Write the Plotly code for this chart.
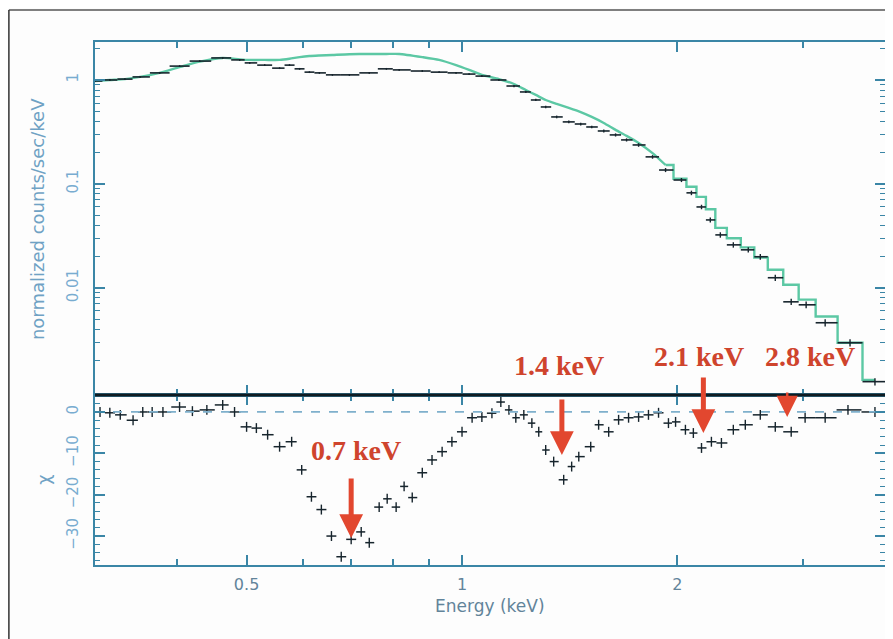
import math
import plotly.graph_objects as go
from plotly.subplots import make_subplots

# ---------------- data ----------------
energy_data = [0.307, 0.322, 0.338, 0.355, 0.378, 0.403, 0.430, 0.463, 0.489, 0.505,
               0.530, 0.556, 0.574, 0.593, 0.612, 0.632, 0.659, 0.696, 0.742, 0.784,
               0.817, 0.880, 0.929, 0.981, 1.023, 1.066, 1.126, 1.182, 1.228, 1.268,
               1.309, 1.356, 1.410, 1.465, 1.518, 1.578, 1.639, 1.698, 1.765, 1.846,
               1.925, 2.026, 2.092, 2.161, 2.223, 2.296, 2.394, 2.512, 2.611, 2.740,
               2.884, 3.026, 3.217, 3.485, 3.776]
flux_data = [0.978, 1.00, 1.02, 1.07, 1.17, 1.36, 1.52, 1.63, 1.56, 1.46,
             1.39, 1.30, 1.39, 1.28, 1.19, 1.17, 1.12, 1.12, 1.17, 1.28,
             1.25, 1.22, 1.19, 1.17, 1.14, 1.09, 1.00, 0.875, 0.767, 0.642,
             0.550, 0.441, 0.395, 0.377, 0.353, 0.323, 0.296, 0.265, 0.237, 0.182,
             0.136, 0.109, 0.082, 0.060, 0.045, 0.0323, 0.0259, 0.0232, 0.0199, 0.0125,
             0.00733, 0.00686, 0.00461, 0.00296, 0.00125]
flux_err_frac = [0.02, 0.02, 0.02, 0.02, 0.02, 0.02, 0.02, 0.02, 0.02, 0.02,
                 0.02, 0.02, 0.02, 0.02, 0.02, 0.02, 0.02, 0.02, 0.02, 0.02,
                 0.02, 0.02, 0.02, 0.02, 0.02, 0.02, 0.02, 0.025, 0.025, 0.025,
                 0.03, 0.03, 0.03, 0.03, 0.03, 0.035, 0.035, 0.035, 0.04, 0.04,
                 0.045, 0.045, 0.05, 0.05, 0.055, 0.06, 0.06, 0.06, 0.065, 0.07,
                 0.07, 0.075, 0.08, 0.08, 0.08]
model_flux = [0.978, 1.00, 1.02, 1.07, 1.17, 1.33, 1.50, 1.63, 1.58, 1.56,
              1.56, 1.56, 1.60, 1.66, 1.70, 1.72, 1.74, 1.77, 1.78, 1.78,
              1.78, 1.66, 1.56, 1.39, 1.25, 1.12, 1.02, 0.915, 0.80, 0.718,
              0.642, 0.588, 0.538, 0.49, 0.441, 0.386, 0.331, 0.29, 0.248, 0.198,
              0.152, 0.112, 0.094, 0.075, 0.057, 0.0377, 0.030, 0.0245, 0.0195, 0.0149,
              0.0107, 0.0077, 0.0053, 0.00296, 0.0013]
model_step_from = 1.925   # above this energy the model is drawn as a binned step line

res_energy = [0.312, 0.322, 0.333, 0.347, 0.358, 0.369, 0.382, 0.403, 0.420, 0.440,
              0.463, 0.481, 0.500, 0.516, 0.535, 0.556, 0.578, 0.597, 0.616, 0.636,
              0.657, 0.678, 0.700, 0.723, 0.742, 0.766, 0.786, 0.809, 0.830, 0.852,
              0.880, 0.908, 0.938, 0.968, 1.000, 1.033, 1.066, 1.101, 1.133, 1.163,
              1.189, 1.220, 1.252, 1.280, 1.309, 1.343, 1.387, 1.423, 1.456, 1.513,
              1.552, 1.603, 1.655, 1.709, 1.765, 1.822, 1.882, 1.943, 1.988, 2.052,
              2.105, 2.161, 2.231, 2.304, 2.394, 2.488, 2.611, 2.740, 2.884, 3.016,
              3.217, 3.462, 3.776]
res_chi = [0.0, -0.2, -0.7, -2.0, 0.0, 0.0, 0.0, 1.2, 0.2, 0.5,
           1.7, 0.0, -3.6, -3.9, -5.5, -8.4, -7.2, -14.0, -20.5, -23.6,
           -30.0, -35.0, -30.8, -29.0, -31.6, -23.0, -21.0, -23.0, -18.0, -20.7,
           -14.7, -11.6, -9.6, -7.2, -4.8, -1.4, -1.2, -0.3, 2.4, 0.5,
           -1.4, -0.7, -2.7, -4.8, -9.2, -12.0, -16.4, -13.2, -10.8, -8.4,
           -3.1, -4.8, -1.9, -1.4, -1.2, -0.7, -0.2, -2.7, -2.4, -4.3,
           -5.1, -8.7, -7.2, -7.5, -4.3, -3.1, -0.7, -3.6, -4.8, -1.4,
           -1.4, 0.5, 0.0]
res_err = 1.2

line_labels = ["0.7 keV", "1.4 keV", "2.1 keV", "2.8 keV"]
line_energy = [0.700, 1.379, 2.174, 2.847]      # arrow positions
line_tip_chi = [-30.5, -10.4, -5.1, -1.2]       # arrow tips in residual panel

x_range_kev = [0.307, 3.90]
y_top_range = [0.00093, 2.32]
y_bot_range = [-37.0, 4.1]

x_major = [0.5, 1, 2]
x_major_text = ["0.5", "1", "2"]
x_minor = [0.4, 0.6, 0.7, 0.8, 0.9, 3]
y_major = [0.01, 0.1, 1]
y_major_text = ["0.01", "0.1", "1"]
y_minor = [0.002, 0.003, 0.004, 0.005, 0.006, 0.007, 0.008, 0.009,
           0.02, 0.03, 0.04, 0.05, 0.06, 0.07, 0.08, 0.09,
           0.2, 0.3, 0.4, 0.5, 0.6, 0.7, 0.8, 0.9, 2]
chi_major = [-30, -20, -10, 0]
chi_minor = [-36, -34, -32, -28, -26, -24, -22, -18, -16, -14, -12,
             -8, -6, -4, -2, 2, 4]

# ---------------- styling ----------------
AX = "#3b86a6"
DATA = "#17252d"
MODEL = "#5cc8a4"
RED = "#cf442d"
ARROW = "#e2472f"
TLAB_Y = "#78acd0"
TLAB_X = "#62849a"
FONT = "DejaVu Sans"


def bin_errors(centers, lo, hi):
    logs = [math.log10(c) for c in centers]
    edges = [math.log10(lo)]
    for a, b in zip(logs[:-1], logs[1:]):
        edges.append((a + b) / 2)
    edges.append(2 * logs[-1] - edges[-1])
    minus = [c - 10 ** edges[i] for i, c in enumerate(centers)]
    plus = [10 ** edges[i + 1] - c for i, c in enumerate(centers)]
    return minus, plus


fig = make_subplots(rows=2, cols=1, shared_xaxes=True, vertical_spacing=0,
                    row_heights=[353, 170])

# model: smooth at low energy, binned steps at high energy
k = energy_data.index(model_step_from)
fig.add_trace(go.Scatter(x=energy_data[:k + 1], y=model_flux[:k + 1], mode="lines",
                         line=dict(color=MODEL, width=2.4, shape="spline", smoothing=0.6),
                         hoverinfo="skip"), row=1, col=1)
fig.add_trace(go.Scatter(x=energy_data[k:], y=model_flux[k:], mode="lines",
                         line=dict(color=MODEL, width=2.4, shape="hvh"),
                         hoverinfo="skip"), row=1, col=1)

# data crosses
dm, dp = bin_errors(energy_data, x_range_kev[0], x_range_kev[1])
fig.add_trace(go.Scatter(
    x=energy_data, y=flux_data, mode="markers", marker=dict(size=1, color=DATA),
    error_x=dict(type="data", symmetric=False, array=dp, arrayminus=dm,
                 color=DATA, thickness=1.6, width=0),
    error_y=dict(type="data", array=[f * e for f, e in zip(flux_data, flux_err_frac)],
                 color=DATA, thickness=1.4, width=0)), row=1, col=1)

# residuals
rm, rp = bin_errors(res_energy, x_range_kev[0], x_range_kev[1])
fig.add_trace(go.Scatter(
    x=res_energy, y=res_chi, mode="markers", marker=dict(size=1, color=DATA),
    error_x=dict(type="data", symmetric=False, array=rp, arrayminus=rm,
                 color=DATA, thickness=1.5, width=0),
    error_y=dict(type="constant", value=res_err, color=DATA, thickness=1.4, width=0)),
    row=2, col=1)

# zero line (dashed)
fig.add_trace(go.Scatter(x=x_range_kev, y=[0, 0], mode="lines",
                         line=dict(color="#7fb0cc", width=1.7, dash="dash"),
                         hoverinfo="skip"), row=2, col=1)

xlog = [math.log10(v) for v in x_range_kev]
common_x = dict(type="log", range=xlog, showline=True, linecolor=AX, linewidth=2,
                mirror="ticks", ticks="inside", ticklen=10, tickwidth=1.5, tickcolor=AX,
                tickmode="array", tickvals=x_major, showgrid=False, zeroline=False,
                minor=dict(tickmode="array", tickvals=x_minor, ticks="inside",
                           ticklen=6, tickcolor=AX, tickwidth=1.5, showgrid=False))
fig.update_xaxes(**common_x, showticklabels=False, row=1, col=1)
fig.update_xaxes(**common_x, ticktext=x_major_text, showticklabels=True,
                 tickfont=dict(family=FONT, size=16, color=TLAB_X),
                 ticklabelstandoff=4, row=2, col=1)

fig.update_yaxes(type="log", range=[math.log10(v) for v in y_top_range],
                 showline=True, linecolor=AX, linewidth=2, mirror="ticks",
                 ticks="inside", ticklen=10, tickwidth=1.5, tickcolor=AX,
                 tickmode="array", tickvals=y_major, ticktext=y_major_text,
                 tickangle=-90, tickfont=dict(family=FONT, size=15, color=TLAB_Y),
                 ticklabelstandoff=9, showgrid=False, zeroline=False,
                 minor=dict(tickmode="array", tickvals=y_minor, ticks="inside",
                            ticklen=5, tickcolor=AX, tickwidth=1.2, showgrid=False),
                 row=1, col=1)
fig.update_yaxes(range=y_bot_range, showline=True, linecolor=AX, linewidth=2,
                 mirror="ticks", ticks="inside", ticklen=10, tickwidth=1.5,
                 tickcolor=AX, tickmode="array", tickvals=chi_major,
                 tickangle=-90, tickfont=dict(family=FONT, size=15, color=TLAB_Y),
                 ticklabelstandoff=9, showgrid=False, zeroline=False,
                 minor=dict(tickmode="array", tickvals=chi_minor, ticks="inside",
                            ticklen=5, tickcolor=AX, tickwidth=1.2, showgrid=False),
                 row=2, col=1)

# arrows
for i, (e, tip) in enumerate(zip(line_energy, line_tip_chi)):
    small = i == 3
    fig.add_annotation(x=math.log10(e), y=tip, xref="x2", yref="y2",
                       ax=0, ay=-26 if small else (-61 if i == 0 else -57),
                       showarrow=True, arrowhead=2,
                       arrowwidth=2.5 if small else 5,
                       arrowsize=1.7 if small else 0.95,
                       arrowcolor=ARROW, text="")

# line labels
label_pos = [(0.711, -9.4, "x2", "y2"), (1.365, 0.00178, "x", "y"),
             (2.146, 0.00217, "x", "y"), (3.064, 0.00217, "x", "y")]
for txt, (xe, yv, xr, yr) in zip(line_labels, label_pos):
    yy = yv if yr == "y2" else math.log10(yv)
    fig.add_annotation(x=math.log10(xe), y=yy, xref=xr, yref=yr, text="<b>" + txt + "</b>",
                       showarrow=False, xanchor="center", yanchor="middle",
                       font=dict(family="Liberation Serif", size=28, color=RED))

# axis titles
fig.add_annotation(x=-0.072, y=0.6616, xref="paper", yref="paper", textangle=-90,
                   xanchor="center", yanchor="middle",
                   text="normalized counts/sec/keV", showarrow=False,
                   font=dict(family=FONT, size=18, color="#6fa2c4"))
fig.add_annotation(x=-0.066, y=0.1625, xref="paper", yref="paper", textangle=-90,
                   xanchor="center", yanchor="middle",
                   text="χ", showarrow=False,
                   font=dict(family=FONT, size=18, color="#6fa2c4"))
fig.add_annotation(x=0.5, y=-0.0784, xref="paper", yref="paper",
                   xanchor="center", yanchor="middle",
                   text="Energy (keV)", showarrow=False,
                   font=dict(family=FONT, size=17, color=TLAB_X))

# panel separator and outer frame
fig.add_shape(type="line", xref="paper", yref="paper", x0=0, x1=1, y0=0.3250, y1=0.3250,
              line=dict(color="#101c22", width=3))
fig.add_shape(type="line", xref="paper", yref="paper", x0=-0.109, x1=1.0013,
              y0=1.0612, y1=1.0612, line=dict(color="#555555", width=1.5))
fig.add_shape(type="line", xref="paper", yref="paper", x0=-0.109, x1=-0.109,
              y0=1.0612, y1=-0.1415, line=dict(color="#333333", width=1.5))

# page body adds an 8px offset, so the figure is 8px smaller than the window
fig.update_layout(width=885, height=631, showlegend=False,
                  margin=dict(l=87, r=6, t=34, b=74),
                  paper_bgcolor="#fdfdfd", plot_bgcolor="#fdfdfd")

fig.write_html("out.html")
